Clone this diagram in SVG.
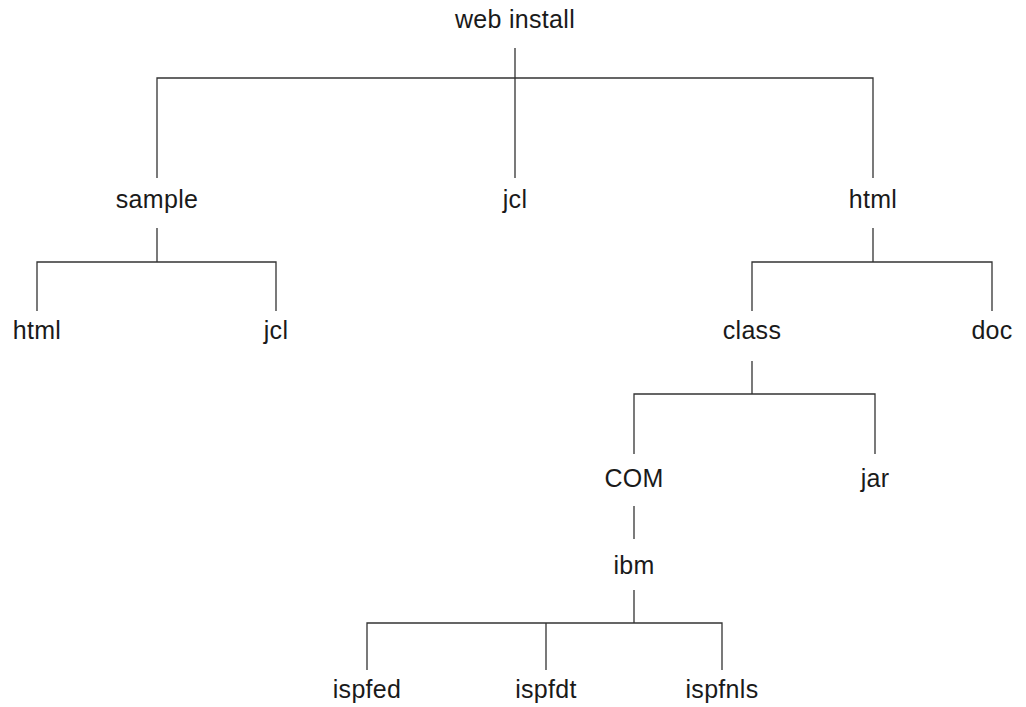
<svg xmlns="http://www.w3.org/2000/svg" width="1026" height="707" viewBox="0 0 1026 707">
  <style>
    .lbl { font-family: "Liberation Sans", Arial, sans-serif; font-size: 25px; letter-spacing: 0.3px; fill: #1a1a1a; text-anchor: middle; }
    .wire { fill: none; stroke: #333; stroke-width: 1.3; }
  </style>
  <rect width="1026" height="707" fill="#fff"/>

  <g id="connectors">
    <!-- web install -> sample, jcl, html -->
    <path class="wire" d="M515 48 V178 M157 178 V78 H873 V178"/>
    <!-- sample -> html, jcl -->
    <path class="wire" d="M157 228 V262 M37 311 V262 H276 V311"/>
    <!-- html -> class, doc -->
    <path class="wire" d="M873 228 V262 M752 311 V262 H992 V311"/>
    <!-- class -> COM, jar -->
    <path class="wire" d="M752 361 V394 M634 454 V394 H875 V454"/>
    <!-- COM -> ibm -->
    <path class="wire" d="M634 506 V539"/>
    <!-- ibm -> ispfed, ispfdt, ispfnls -->
    <path class="wire" d="M634 590 V623 M367 670 V623 H722 V670 M546 623 V670"/>
  </g>

  <g id="n-web-install"><text class="lbl" x="515" y="28">web install</text></g>
  <g id="n-sample"><text class="lbl" x="157" y="208">sample</text></g>
  <g id="n-jcl"><text class="lbl" x="515" y="208">jcl</text></g>
  <g id="n-html"><text class="lbl" x="873" y="208">html</text></g>
  <g id="n-sample-html"><text class="lbl" x="37" y="339">html</text></g>
  <g id="n-sample-jcl"><text class="lbl" x="276" y="339">jcl</text></g>
  <g id="n-class"><text class="lbl" x="752" y="339">class</text></g>
  <g id="n-doc"><text class="lbl" x="992" y="339">doc</text></g>
  <g id="n-com"><text class="lbl" x="634" y="487">COM</text></g>
  <g id="n-jar"><text class="lbl" x="875" y="487">jar</text></g>
  <g id="n-ibm"><text class="lbl" x="634" y="574">ibm</text></g>
  <g id="n-ispfed"><text class="lbl" x="367" y="698">ispfed</text></g>
  <g id="n-ispfdt"><text class="lbl" x="546" y="698">ispfdt</text></g>
  <g id="n-ispfnls"><text class="lbl" x="722" y="698">ispfnls</text></g>
</svg>
